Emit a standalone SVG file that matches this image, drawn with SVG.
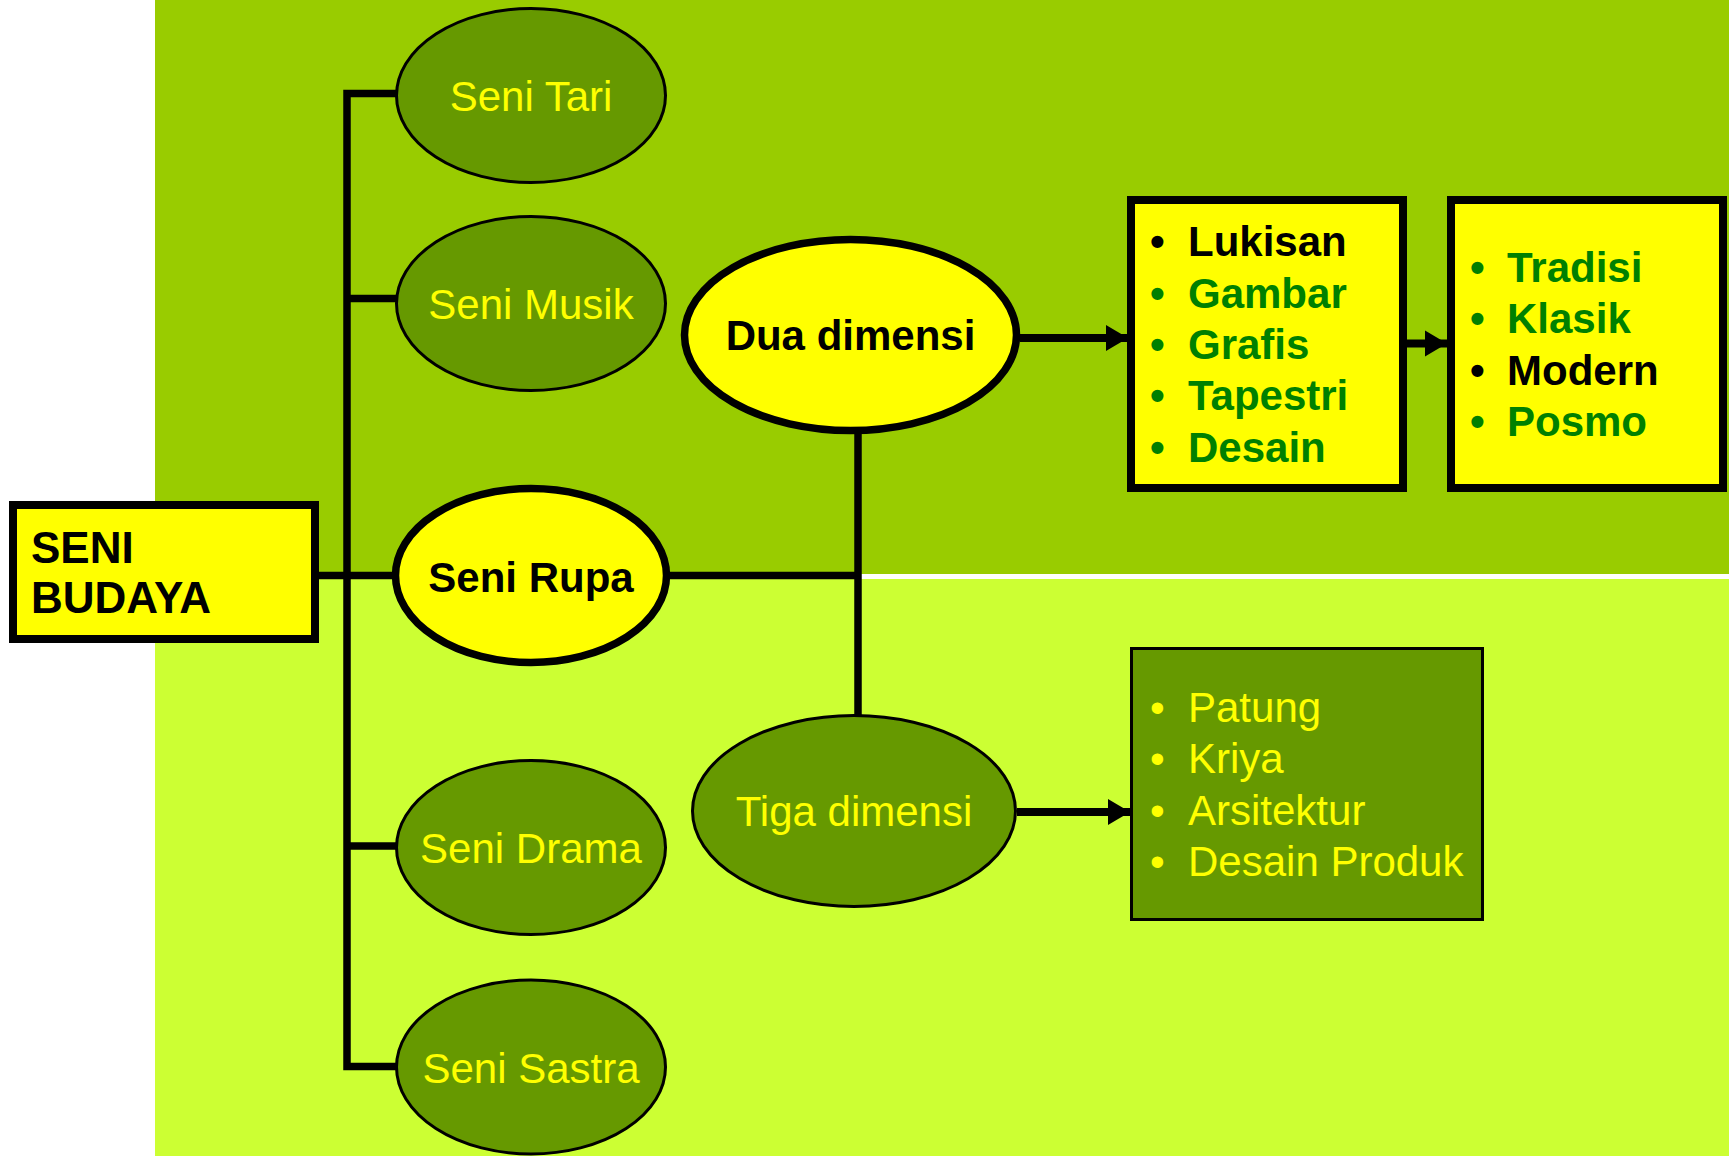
<svg xmlns="http://www.w3.org/2000/svg" width="1729" height="1156" viewBox="0 0 1729 1156">
  <defs>
    <style>
      .t { font-family: "Liberation Sans", Arial, sans-serif; font-size: 42px; }
      .b { font-weight: bold; }
      .big { font-size: 44px; }
      .yl { fill: #FFFF00; }
      .bk { fill: #000000; }
      .gr { fill: #008000; }
      .ell-g { fill: #669900; stroke: #000; stroke-width: 3; }
      .ell-y { fill: #FFFF00; stroke: #000; stroke-width: 7.5; }
      .box-y { fill: #FFFF00; stroke: #000; stroke-width: 8; }
      .box-g { fill: #669900; stroke: #000; stroke-width: 3; }
      .conn { fill: none; stroke: #000; stroke-width: 7.5; stroke-linecap: butt; stroke-linejoin: miter; }
      .arr { fill: none; stroke: #000; stroke-width: 8; }
    </style>
    <marker id="arrow" markerUnits="userSpaceOnUse" markerWidth="23" markerHeight="26" refX="22" refY="13" orient="auto" overflow="visible">
      <path d="M0,0 L22,13 L0,26 z" fill="#000"/>
    </marker>
  </defs>

  <!-- background -->
  <rect x="0" y="0" width="1729" height="1156" fill="#FFFFFF"/>
  <rect x="155" y="0" width="1574" height="575" fill="#99CC00"/>
  <rect x="155" y="575" width="1574" height="581" fill="#CCFF33"/>
  <rect x="155" y="574" width="1574" height="5" fill="#FFFFFF"/>

  <!-- connectors -->
  <g id="connectors">
    <path class="conn" d="M396,93.5 H347 V1066.5 H396"/>
    <path class="conn" d="M347,298.5 H396"/>
    <path class="conn" d="M347,846 H396"/>
    <path class="conn" d="M315,575.5 H396"/>
    <path class="conn" d="M668,575.5 H858"/>
    <path class="conn" d="M858,432 V716"/>
    <path class="arr" d="M1020,338 H1128" marker-end="url(#arrow)"/>
    <path class="arr" d="M1407,343.5 H1447" marker-end="url(#arrow)"/>
    <path class="arr" d="M1017,812 H1130" marker-end="url(#arrow)"/>
  </g>

  <g id="seni-budaya">
    <rect class="box-y" x="13" y="505" width="302" height="134"/>
    <text class="t b bk big" x="31" y="563">SENI</text>
    <text class="t b bk big" x="31" y="613">BUDAYA</text>
  </g>

  <g id="seni-tari">
    <ellipse class="ell-g" cx="531" cy="95.5" rx="134.5" ry="87"/>
    <text class="t yl" x="531" y="111" text-anchor="middle">Seni Tari</text>
  </g>

  <g id="seni-musik">
    <ellipse class="ell-g" cx="531" cy="303.5" rx="134.5" ry="87"/>
    <text class="t yl" x="531" y="319" text-anchor="middle">Seni Musik</text>
  </g>

  <g id="seni-rupa">
    <ellipse class="ell-y" cx="531" cy="575.5" rx="135.5" ry="87"/>
    <text class="t b bk" x="531" y="592" text-anchor="middle">Seni Rupa</text>
  </g>

  <g id="seni-drama">
    <ellipse class="ell-g" cx="531" cy="847.5" rx="134.5" ry="87"/>
    <text class="t yl" x="531" y="863" text-anchor="middle">Seni Drama</text>
  </g>

  <g id="seni-sastra">
    <ellipse class="ell-g" cx="531" cy="1067" rx="134.5" ry="87"/>
    <text class="t yl" x="531" y="1083" text-anchor="middle">Seni Sastra</text>
  </g>

  <g id="dua-dimensi">
    <ellipse class="ell-y" cx="850.5" cy="335" rx="166" ry="95.5"/>
    <text class="t b bk" x="850.5" y="350" text-anchor="middle">Dua dimensi</text>
  </g>

  <g id="tiga-dimensi">
    <ellipse class="ell-g" cx="854" cy="811" rx="161.5" ry="95.5"/>
    <text class="t yl" x="854" y="826" text-anchor="middle">Tiga dimensi</text>
  </g>

  <g id="jenis-dua-dimensi">
    <rect class="box-y" x="1131" y="200" width="272" height="288"/>
    <g class="t b">
      <text class="bk" x="1150" y="256">•</text><text class="bk" x="1188" y="256">Lukisan</text>
      <text class="gr" x="1150" y="308">•</text><text class="gr" x="1188" y="308">Gambar</text>
      <text class="gr" x="1150" y="359">•</text><text class="gr" x="1188" y="359">Grafis</text>
      <text class="gr" x="1150" y="410">•</text><text class="gr" x="1188" y="410">Tapestri</text>
      <text class="gr" x="1150" y="462">•</text><text class="gr" x="1188" y="462">Desain</text>
    </g>
  </g>

  <g id="gaya">
    <rect class="box-y" x="1451" y="200" width="272" height="288"/>
    <g class="t b">
      <text class="gr" x="1470" y="282">•</text><text class="gr" x="1507" y="282">Tradisi</text>
      <text class="gr" x="1470" y="333">•</text><text class="gr" x="1507" y="333">Klasik</text>
      <text class="bk" x="1470" y="385">•</text><text class="bk" x="1507" y="385">Modern</text>
      <text class="gr" x="1470" y="436">•</text><text class="gr" x="1507" y="436">Posmo</text>
    </g>
  </g>

  <g id="jenis-tiga-dimensi">
    <rect class="box-g" x="1131.5" y="648.5" width="351" height="271"/>
    <g class="t yl">
      <text x="1150" y="722">•</text><text x="1188" y="722">Patung</text>
      <text x="1150" y="773">•</text><text x="1188" y="773">Kriya</text>
      <text x="1150" y="825">•</text><text x="1188" y="825">Arsitektur</text>
      <text x="1150" y="876">•</text><text x="1188" y="876">Desain Produk</text>
    </g>
  </g>
</svg>
